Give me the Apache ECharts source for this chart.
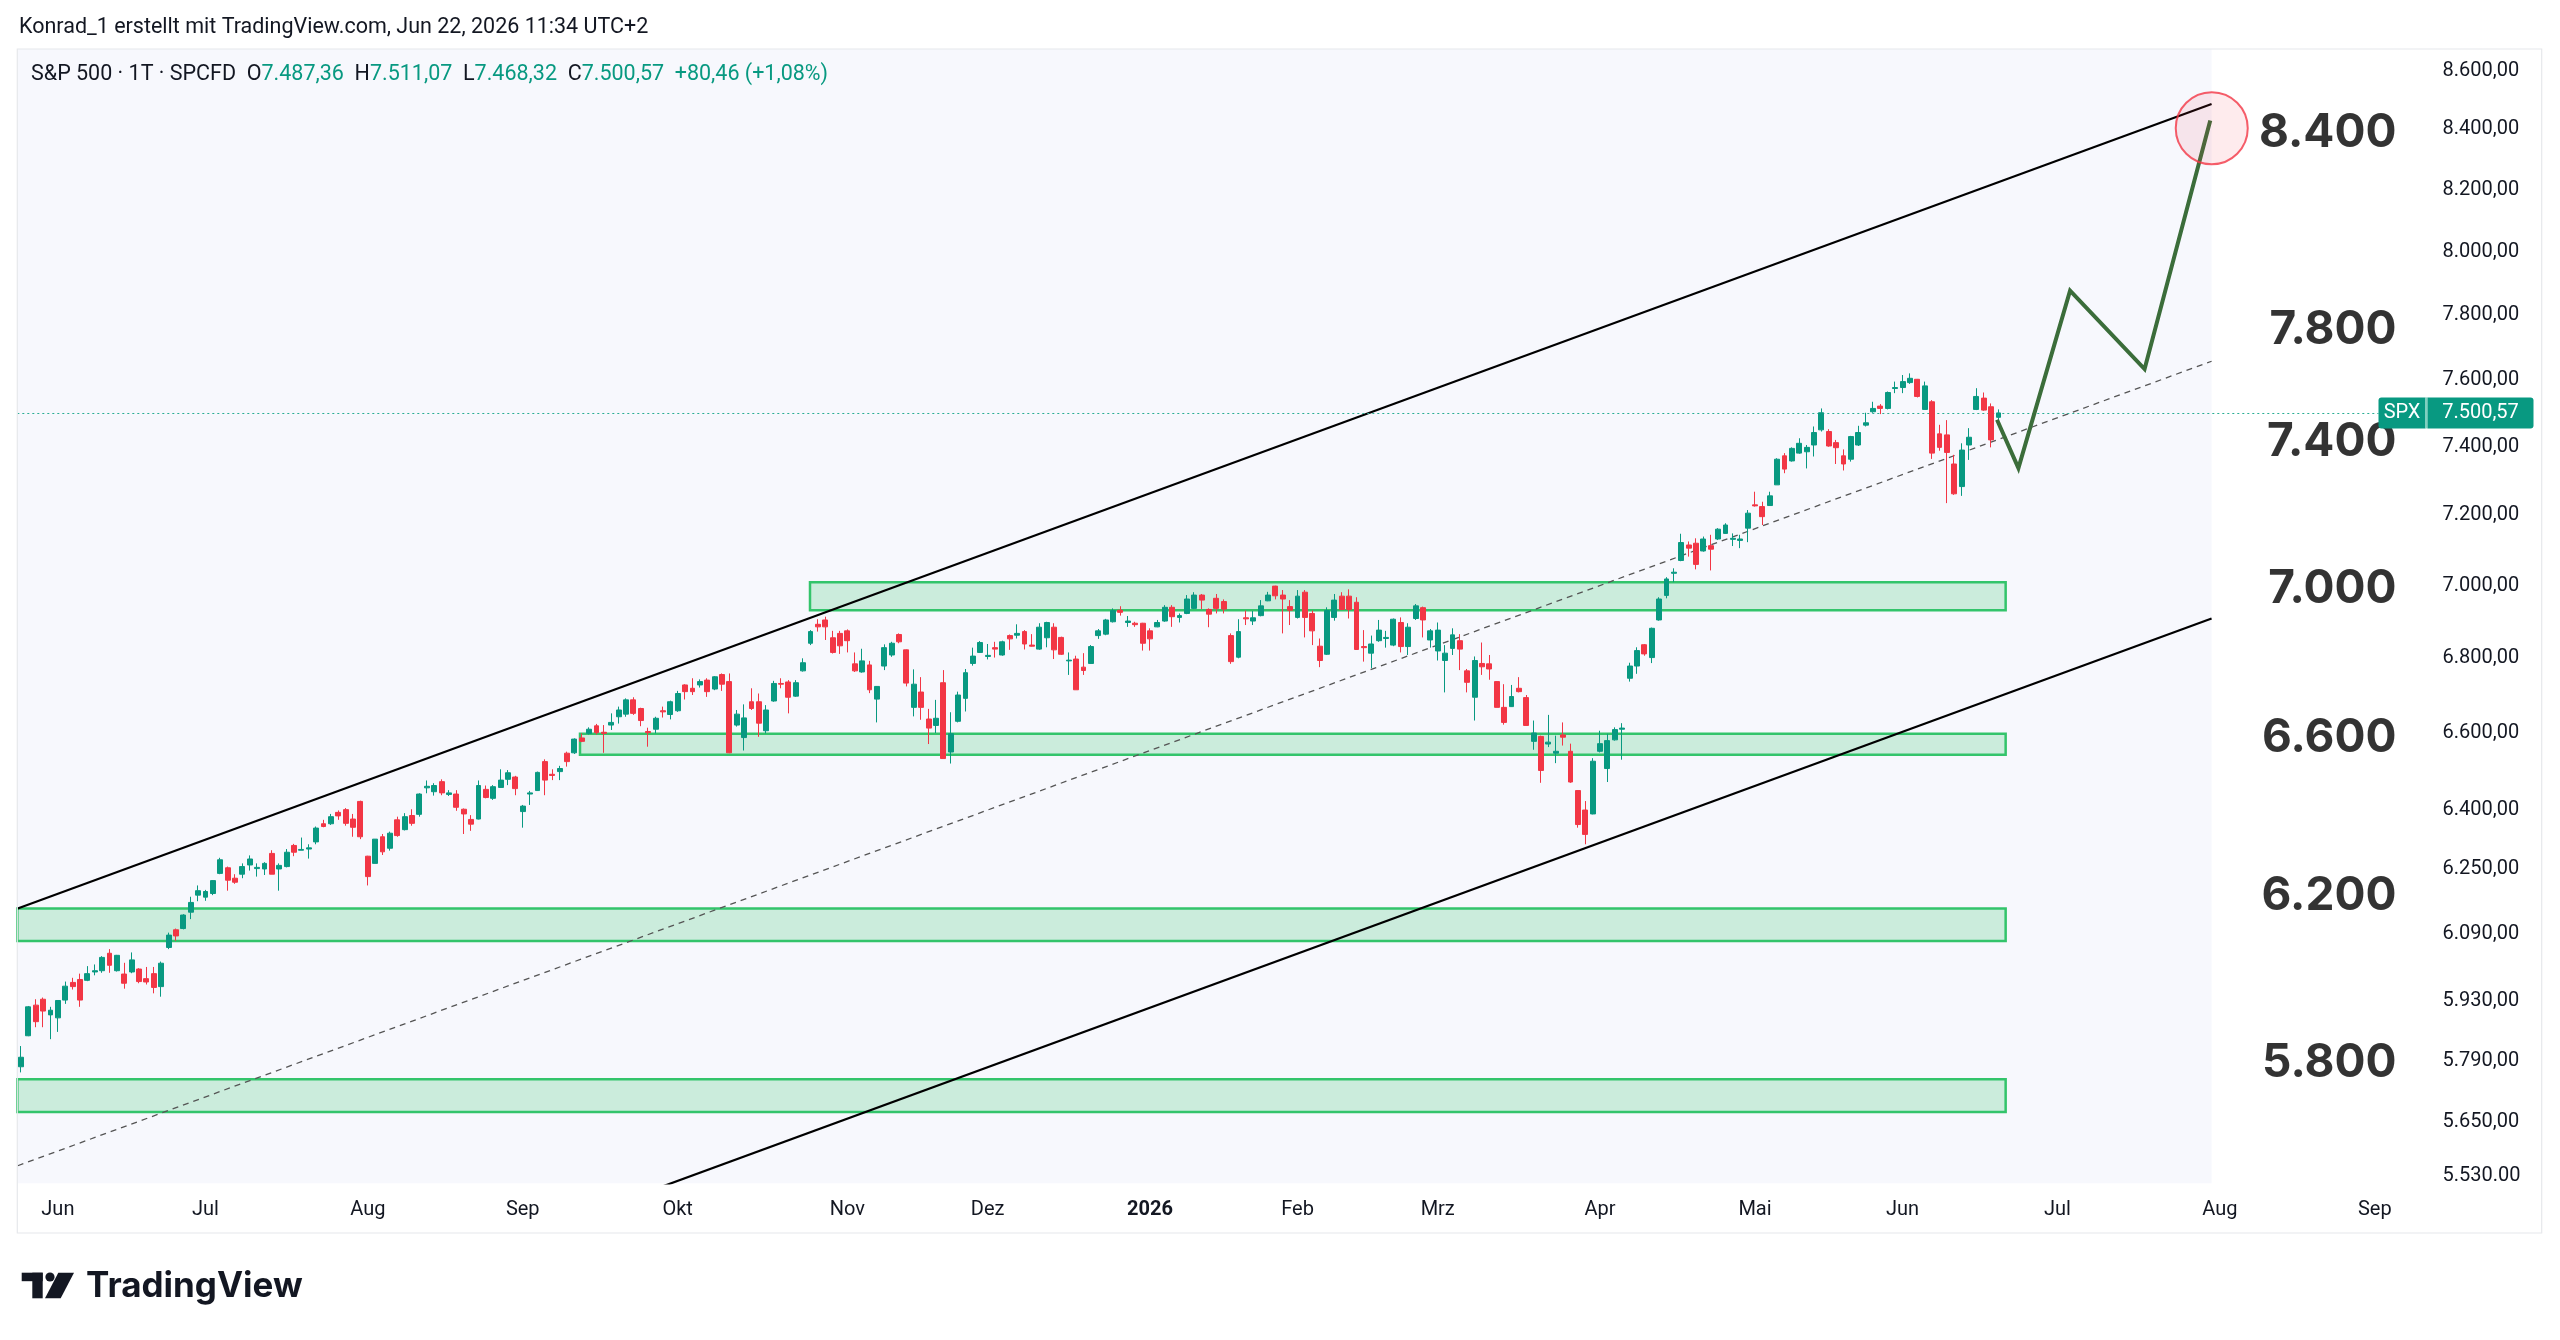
<!DOCTYPE html>
<html><head><meta charset="utf-8">
<script src="https://cdn.jsdelivr.net/npm/echarts@6/dist/echarts.min.js"></script>
<style>html,body{margin:0;padding:0;background:#fff}#c{width:2560px;height:1340px}</style>
</head><body><div id="c"></div>
<script>
// ---- Daily candles (bar index 0 = 23 May 2025) ----
const openP = [5776,5848,5920,5934,5897,5890,5932,5974,5981,5979,
5999,6002,6044,6002,5994,5999,6006,5983,5995,5964,
6058,6101,6104,6144,6186,6181,6190,6240,6254,6228,
6238,6261,6252,6251,6290,6251,6257,6310,6298,6301,
6319,6365,6365,6394,6401,6377,6422,6283,6265,6332,
6303,6375,6350,6386,6389,6457,6447,6473,6440,6441,
6402,6376,6377,6453,6430,6458,6479,6485,6396,6441,
6450,6525,6492,6499,6547,6548,6587,6599,6619,6602,
6621,6643,6650,6688,6665,6604,6610,6659,6649,6659,
6728,6719,6728,6741,6717,6756,6737,6621,6588,6683,
6683,6606,6685,6732,6736,6698,6766,6841,6893,6905,
6856,6868,6875,6785,6763,6782,6690,6779,6809,6865,
6823,6668,6709,6637,6620,6734,6550,6631,6692,6786,
6816,6805,6829,6809,6862,6863,6873,6836,6825,6856,
6885,6857,6793,6798,6776,6786,6862,6866,6900,6932,
6898,6896,6896,6875,6886,6902,6940,6912,6923,6937,
6974,6934,6965,6956,6862,6803,6911,6902,6917,6958,
6999,6974,6942,6912,6982,6923,6833,6811,6912,6971,
6971,6954,6832,6814,6848,6854,6836,6898,6832,6909,
6939,6850,6820,6794,6827,6848,6766,6695,6786,6785,
6737,6668,6670,6719,6694,6578,6591,6571,6547,6595,
6552,6450,6400,6390,6552,6507,6582,6610,6746,6779,
6837,6802,6905,6973,7035,7071,7115,7120,7098,7113,
7132,7148,7131,7128,7163,7230,7225,7228,7288,7373,
7358,7381,7385,7405,7450,7445,7412,7373,7363,7405,
7464,7504,7521,7514,7574,7577,7592,7602,7511,7534,
7438,7435,7349,7283,7405,7511,7545,7519,7487.36];
const highP = [5824,5918,5934,5938,5916,5931,5976,5985,5995,6013,
6017,6037,6054,6040,6021,6046,6008,6011,6011,6024,
6094,6104,6139,6182,6210,6199,6223,6279,6257,6238,
6265,6285,6265,6268,6298,6265,6301,6314,6330,6313,
6358,6375,6390,6399,6405,6390,6424,6284,6326,6339,
6345,6383,6392,6402,6443,6476,6469,6479,6451,6451,
6404,6387,6476,6463,6464,6505,6503,6488,6413,6449,
6499,6531,6505,6514,6551,6586,6599,6615,6624,6621,
6652,6670,6692,6695,6667,6614,6643,6670,6686,6712,
6730,6746,6743,6746,6752,6759,6759,6661,6676,6719,
6705,6674,6739,6746,6741,6741,6800,6877,6907,6914,
6875,6875,6879,6816,6826,6793,6725,6838,6845,6868,
6824,6770,6749,6664,6688,6768,6655,6710,6771,6829,
6847,6839,6845,6848,6865,6893,6877,6866,6896,6900,
6896,6859,6816,6807,6814,6836,6880,6908,6937,6943,
6916,6900,6897,6882,6905,6946,6946,6923,6974,6982,
6977,6937,6977,6962,6868,6907,6931,6930,6960,6983,
7000,6988,6960,6988,6988,6931,6854,6940,6977,6982,
6990,6968,6877,6862,6905,6875,6909,6912,6896,6949,
6942,6880,6898,6836,6882,6866,6771,6805,6843,6809,
6738,6730,6728,6749,6701,6633,6593,6648,6593,6628,
6572,6451,6423,6534,6606,6598,6615,6626,6788,6830,
6839,6884,6968,7024,7049,7147,7125,7134,7139,7144,
7163,7177,7148,7144,7215,7268,7239,7268,7366,7381,
7398,7425,7405,7460,7514,7452,7420,7392,7432,7462,
7501,7534,7527,7565,7595,7615,7620,7603,7595,7539,
7465,7479,7376,7410,7455,7575,7562,7529,7511.07];
const lowP = [5763,5847,5868,5868,5840,5857,5923,5957,5916,5977,
5991,5997,5997,6000,5959,5996,5972,5969,5948,5940,
6054,6074,6102,6127,6171,6172,6186,6238,6197,6214,
6228,6247,6232,6236,6238,6197,6255,6283,6298,6277,
6313,6356,6362,6375,6360,6332,6326,6210,6265,6286,
6297,6332,6348,6360,6383,6443,6437,6438,6436,6398,
6339,6347,6376,6430,6426,6457,6464,6438,6355,6413,
6449,6438,6477,6477,6512,6545,6576,6596,6596,6548,
6608,6625,6643,6648,6618,6564,6599,6641,6636,6656,
6689,6701,6721,6696,6714,6712,6547,6617,6554,6661,
6590,6599,6683,6719,6652,6696,6764,6836,6873,6850,
6813,6812,6816,6763,6761,6706,6628,6768,6804,6841,
6724,6644,6635,6571,6600,6533,6520,6628,6657,6780,
6815,6797,6802,6807,6823,6854,6824,6832,6823,6830,
6798,6809,6755,6715,6755,6785,6853,6863,6898,6917,
6886,6886,6821,6821,6885,6900,6886,6898,6921,6935,
6935,6885,6923,6923,6785,6800,6891,6891,6915,6957,
6962,6868,6891,6909,6857,6836,6776,6809,6903,6933,
6909,6823,6791,6773,6845,6829,6833,6816,6809,6905,
6857,6829,6794,6708,6809,6768,6708,6633,6755,6742,
6668,6622,6669,6708,6619,6556,6470,6563,6521,6567,
6470,6355,6313,6389,6549,6472,6580,6530,6737,6758,
6807,6787,6903,6965,7010,7069,7082,7046,7096,7043,
7129,7147,7112,7106,7123,7225,7172,7227,7288,7322,
7356,7379,7336,7371,7445,7400,7349,7330,7356,7402,
7460,7501,7497,7511,7560,7560,7588,7547,7511,7364,
7388,7235,7259,7256,7361,7509,7507,7398,7468.32];
const closeP = [5798,5916,5881,5906,5908,5931,5965,5964,5932,5995,
6002,6034,6015,6039,5972,6028,5976,5975,5962,6020,
6088,6086,6137,6168,6197,6195,6222,6274,6223,6218,
6257,6276,6255,6265,6238,6260,6293,6293,6300,6304,
6354,6358,6383,6385,6366,6356,6332,6232,6326,6294,
6341,6335,6383,6366,6441,6461,6463,6444,6444,6407,
6390,6364,6463,6432,6460,6477,6496,6455,6410,6444,
6497,6477,6489,6507,6525,6584,6578,6610,6601,6599,
6628,6661,6688,6652,6633,6601,6639,6656,6683,6705,
6710,6710,6737,6710,6750,6730,6548,6650,6640,6665,
6626,6661,6732,6730,6695,6734,6788,6873,6886,6886,
6816,6834,6848,6766,6793,6715,6724,6829,6841,6845,
6733,6730,6668,6613,6639,6533,6598,6701,6761,6806,
6843,6808,6825,6845,6853,6868,6839,6833,6885,6898,
6823,6811,6795,6715,6767,6832,6875,6905,6931,6926,
6902,6892,6841,6853,6898,6940,6914,6917,6963,6974,
6960,6921,6937,6935,6791,6873,6908,6911,6944,6974,
6972,6963,6932,6971,6912,6875,6794,6931,6960,6934,
6934,6824,6829,6839,6877,6857,6907,6832,6885,6944,
6905,6875,6877,6814,6864,6825,6735,6794,6777,6771,
6668,6628,6697,6710,6620,6600,6502,6576,6552,6589,
6472,6363,6338,6526,6572,6580,6609,6613,6779,6821,
6812,6882,6963,7019,7038,7122,7106,7060,7132,7103,
7160,7172,7134,7132,7206,7227,7196,7256,7363,7334,
7395,7410,7398,7442,7501,7402,7397,7349,7430,7442,
7471,7514,7514,7562,7577,7595,7605,7550,7582,7381,
7398,7383,7262,7390,7428,7550,7509,7420.11,7500.57];

// ---- Time axis ticks (bar index) ----
const xTickIdx = [5,25,47,68,89,112,131,153,173,192,214,235,255,276,298,319];
const xTickLabels = ['Jun','Jul','Aug','Sep','Okt','Nov','Dez','2026','Feb','Mrz','Apr','Mai','Jun','Jul','Aug','Sep'];

// ---- Price axis ticks ----
const yTickValues = [8600,8400,8200,8000,7800,7600,7400,7200,7000,6800,6600,6400,6250,6090,5930,5790,5650,5530];
const yTickLabels = ['8.600,00','8.400,00','8.200,00','8.000,00','7.800,00','7.600,00','7.400,00','7.200,00','7.000,00','6.800,00','6.600,00','6.400,00','6.250,00','6.090,00','5.930,00','5.790,00','5.650,00','5.530.00'];

// ---- Drawings ----
const zoneLow  = [6931.5, 6543, 6073.7, 5672.8];
const zoneHigh = [7009.7, 6598, 6153, 5747.4];
const zoneStart = [106.93, 75.76, -0.5, -0.5];
const zoneEnd = 268.97;
const channelX = [-0.446, 296.88];
const channelUpper = [6153, 8486];
const channelMid = [5552, 7657];
const channelLower = [5010, 6909];
const forecastX = [267.8, 270.7, 277.7, 287.8, 296.7];
const forecastY = [7480, 7337, 7876, 7633, 8430];
const targetPoint = [296.9, 8404];
const bigLabelText = ['8.400','7.800','7.400','7.000','6.600','6.200','5.800'];
const bigLabelPrice = [8388, 7753, 7413, 6991, 6587, 6184, 5785];
const lastPrice = 7500.57;

const Y_MIN = 5513.2, Y_MAX = 8674.5;
const FONT = 'Roboto, "Noto Sans", sans-serif';
const UP = '#089981', DOWN = '#f23645', INK = '#131722';

const candleData = openP.map((o, i) => [i, o, closeP[i], lowP[i], highP[i]]);
const chart = echarts.init(document.getElementById('c'), null, {renderer: 'canvas'});

const priceLineStyle = {color: '#2bae95', type: [2, 3], width: 1.2, opacity: 1};

const option = {
  animation: false,
  backgroundColor: '#ffffff',
  textStyle: {fontFamily: FONT},
  grid: {left: 17.3, right: 181.5, top: 49, bottom: 156.7, containLabel: false, outerBoundsMode: 'none'},
  xAxis: {
    type: 'value', min: -0.5, max: 319.5,
    axisLine: {show: false}, axisTick: {show: false}, splitLine: {show: false},
    axisLabel: {
      customValues: xTickIdx, margin: 17, fontSize: 20, color: INK, fontFamily: FONT,
      formatter: v => {
        const k = xTickIdx.indexOf(Math.round(v));
        const t = k >= 0 ? xTickLabels[k] : '';
        return t === '2026' ? '{b|2026}' : t;
      },
      rich: {b: {fontWeight: 'bold', fontSize: 20, color: INK, fontFamily: FONT}}
    }
  },
  yAxis: {
    type: 'log', logBase: 10, min: Y_MIN, max: Y_MAX, position: 'right',
    axisLine: {show: false}, axisTick: {show: false}, splitLine: {show: false},
    axisLabel: {
      customValues: yTickValues, margin: 64, fontSize: 20, color: INK, fontFamily: FONT, align: 'left',
      formatter: v => {
        let b = 0;
        for (let i = 1; i < yTickValues.length; i++) if (Math.abs(yTickValues[i] - v) < Math.abs(yTickValues[b] - v)) b = i;
        return yTickLabels[b];
      }
    }
  },
  series: [
    { // channel background
      type: 'line', data: [], z: 1, silent: true,
      markArea: {silent: true, itemStyle: {color: '#f7f8fd'},
        data: [[{xAxis: -0.5, yAxis: Y_MIN}, {xAxis: channelX[1], yAxis: Y_MAX}]]}
    },
    { // support / resistance zones
      type: 'line', data: [], z: 2, silent: true,
      markArea: {silent: true,
        itemStyle: {color: 'rgba(52,194,106,0.22)', borderColor: '#33c46b', borderWidth: 2.5},
        data: zoneLow.map((lo, i) => [{xAxis: zoneStart[i], yAxis: lo}, {xAxis: zoneEnd, yAxis: zoneHigh[i]}])}
    },
    {type: 'line', z: 3, symbol: 'none', silent: true, lineStyle: {color: '#000', width: 2.2},
      data: channelX.map((x, i) => [x, channelUpper[i]])},
    {type: 'line', z: 3, symbol: 'none', silent: true, lineStyle: {color: '#000', width: 2.2},
      data: channelX.map((x, i) => [x, channelLower[i]])},
    {type: 'line', z: 3, symbol: 'none', silent: true, lineStyle: {color: '#555', width: 1.3, type: [6, 5]},
      data: channelX.map((x, i) => [x, channelMid[i]])},
    { // big price labels
      type: 'scatter', z: 3, silent: true, clip: false, symbolSize: 1,
      itemStyle: {color: 'rgba(0,0,0,0)'},
      data: bigLabelText.map((t, i) => ({name: t, value: [322, bigLabelPrice[i]]})),
      label: {show: true, position: 'left', distance: 0, formatter: p => p.name,
        fontFamily: 'Inter, "Noto Sans", sans-serif', fontWeight: 'bold', fontSize: 46, color: '#000'}
    },
    {
      type: 'candlestick', z: 5, silent: true,
      data: candleData, encode: {x: 0, y: [1, 2, 3, 4]},
      barWidth: 5.4,
      itemStyle: {color: UP, color0: DOWN, borderColor: UP, borderColor0: DOWN, borderWidth: 1},
      markLine: {
        silent: true, symbol: ['none', 'none'], animation: false,
        lineStyle: priceLineStyle,
        label: {
          show: true, position: 'end', distance: 0,
          formatter: '{a|SPX}{s| }{b|7.500,57}',
          rich: {
            a: {backgroundColor: UP, color: '#fff', fontSize: 20, fontFamily: FONT, width: 47, height: 31, lineHeight: 31, align: 'center', borderRadius: [3,0,0,3]},
            s: {backgroundColor: '#7fd0bf', width: 2, height: 31, lineHeight: 31},
            b: {backgroundColor: UP, color: '#fff', fontSize: 20, fontFamily: FONT, width: 106, height: 31, lineHeight: 31, align: 'center', borderRadius: [0,3,3,0]}
          }
        },
        data: [{yAxis: lastPrice, lineStyle: priceLineStyle}]
      }
    },
    {type: 'line', z: 6, symbol: 'none', silent: true, lineStyle: {color: '#3b6d3a', width: 4, join: 'miter'},
      data: forecastX.map((x, i) => [x, forecastY[i]])},
    {type: 'scatter', z: 7, silent: true, clip: false, symbolSize: 72,
      itemStyle: {color: 'rgba(242,54,69,0.12)', borderColor: DOWN, borderWidth: 2},
      data: [targetPoint]}
  ],
  graphic: [
    {type: 'rect', z: 100, silent: true, shape: {x: 17.3, y: 49, width: 2524.4, height: 1184},
      style: {fill: null, stroke: '#e6e8ec', lineWidth: 1.2}},
    {type: 'text', z: 100, silent: true, x: 19, y: 28,
      style: {text: 'Konrad_1 erstellt mit TradingView.com, Jun 22, 2026 11:34 UTC+2', fill: INK,
        font: '21.5px ' + FONT, verticalAlign: 'middle', textVerticalAlign: 'middle'}},
    {type: 'text', z: 100, silent: true, x: 31, y: 75,
      style: {
        text: '{k|S&P 500 · 1T · SPCFD}  {k|O}{v|7.487,36}  {k|H}{v|7.511,07}  {k|L}{v|7.468,32}  {k|C}{v|7.500,57}  {v|+80,46 (+1,08%)}',
        font: '21.5px ' + FONT, fill: INK, verticalAlign: 'middle', textVerticalAlign: 'middle',
        rich: {k: {fill: INK, fontSize: 21.5, fontFamily: FONT}, v: {fill: UP, fontSize: 21.5, fontFamily: FONT}}
      }},
    // TradingView logo mark
    {type: 'rect', z: 100, silent: true, shape: {x: 21.7, y: 1272.7, width: 21, height: 8.5}, style: {fill: '#131722'}},
    {type: 'rect', z: 100, silent: true, shape: {x: 32.3, y: 1272.7, width: 10.4, height: 25.6}, style: {fill: '#131722'}},
    {type: 'circle', z: 100, silent: true, shape: {cx: 50, cy: 1277, r: 4.6}, style: {fill: '#131722'}},
    {type: 'polygon', z: 100, silent: true, shape: {points: [[58.3,1272.7],[74,1272.7],[60.7,1298.3],[45,1298.3]]}, style: {fill: '#131722'}},
    {type: 'text', z: 100, silent: true, x: 86, y: 1286,
      style: {text: 'TradingView', fill: '#131722', font: 'bold 35px Inter, "Noto Sans", sans-serif',
        verticalAlign: 'middle', textVerticalAlign: 'middle'}}
  ]
};
chart.setOption(option);
</script></body></html>
